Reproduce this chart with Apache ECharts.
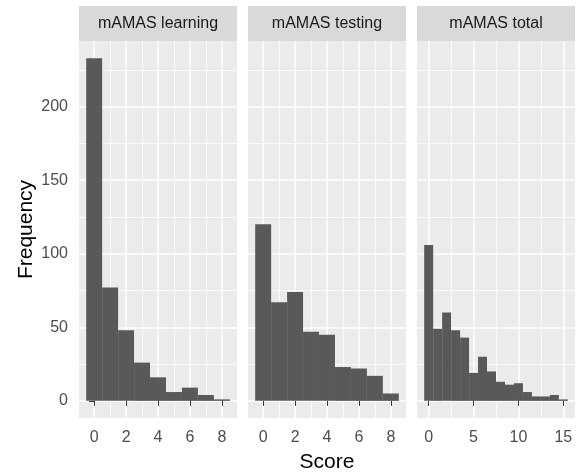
<!DOCTYPE html>
<html><head><meta charset="utf-8">
<script src="https://cdn.jsdelivr.net/npm/echarts@6/dist/echarts.min.js"></script>
<style>html,body{margin:0;padding:0;background:#fff}#c{width:578px;height:473px}</style>
</head><body><div id="c"></div>
<script>
// ---- data ----
const panelTitles = ['mAMAS learning', 'mAMAS testing', 'mAMAS total'];
const learningScores = [0, 1, 2, 3, 4, 5, 6, 7, 8];
const learningCounts = [233, 77, 48, 26, 16, 6, 9, 4, 1];
const testingScores = [0, 1, 2, 3, 4, 5, 6, 7, 8];
const testingCounts = [120, 67, 74, 47, 45, 23, 22, 17, 5];
const totalScores = [0, 1, 2, 3, 4, 5, 6, 7, 8, 9, 10, 11, 12, 13, 14, 15];
const totalCounts = [106, 49, 60, 48, 43, 19, 30, 20, 13, 11, 12, 6, 3, 3, 4, 1];
const BIN_WIDTH = 1;
const xTicksSmall = [0, 2, 4, 6, 8];
const xMinorSmall = [1, 3, 5, 7];
const xTicksTotal = [0, 5, 10, 15];
const xMinorTotal = [2.5, 7.5, 12.5];
const yTicks = [0, 50, 100, 150, 200];
const yMinor = [25, 75, 125, 175, 225];
const xTitle = 'Score';
const yTitle = 'Frequency';

// ---- layout / style ----
const FONT = "'Liberation Sans', Arial, sans-serif";
const LEFTS = [79, 248, 417];
const PW = 158, TOP = 41, PH = 377, STRIP_TOP = 6, STRIP_H = 35;
const TICK_FS = 16, TITLE_FS = 21;
const MAJOR_W = 1.5, MINOR_W = 0.8;
const GRID_COLOR = '#FFFFFF';

const panels = [
  { scores: learningScores, counts: learningCounts, ticks: xTicksSmall, minor: xMinorSmall },
  { scores: testingScores, counts: testingCounts, ticks: xTicksSmall, minor: xMinorSmall },
  { scores: totalScores, counts: totalCounts, ticks: xTicksTotal, minor: xMinorTotal }
];

const maxCount = Math.max(...learningCounts, ...testingCounts, ...totalCounts);
const yPad = 0.05 * maxCount;
const yMin = -yPad, yMax = maxCount + yPad;

function barItem(params, api) {
  const x = api.value(0), c = api.value(1);
  const a = api.coord([x - BIN_WIDTH / 2, c]);
  const b = api.coord([x + BIN_WIDTH / 2, 0]);
  return { type: 'rect', shape: { x: a[0], y: a[1], width: b[0] - a[0], height: b[1] - a[1] }, style: { fill: '#595959' } };
}

const grid = [], xAxis = [], yAxis = [], series = [], graphic = [];
const xHelper = [], yHelper = [];
panels.forEach((p, i) => {
  const lo = Math.min(...p.scores) - BIN_WIDTH / 2;
  const hi = Math.max(...p.scores) + BIN_WIDTH / 2;
  const pad = 0.05 * (hi - lo);
  p.xMin = lo - pad; p.xMax = hi + pad;

  grid.push({ left: LEFTS[i], top: TOP, width: PW, height: PH, show: false,
    containLabel: false, outerBoundsMode: 'none' });
  xAxis.push({
    type: 'value', gridIndex: i, min: p.xMin, max: p.xMax, z: 1,
    axisLine: { show: false },
    axisTick: { show: true, customValues: p.ticks, length: 5, lineStyle: { color: '#333333', width: 1 } },
    axisLabel: { show: true, customValues: p.ticks, color: '#4D4D4D', fontSize: TICK_FS, fontFamily: FONT, margin: 12 },
    splitLine: { show: true, lineStyle: { color: GRID_COLOR, width: MAJOR_W } },
    name: i === 1 ? xTitle : '', nameLocation: 'middle', nameGap: 34,
    nameTextStyle: { color: '#000000', fontSize: TITLE_FS, fontFamily: FONT }
  });
  yAxis.push({
    type: 'value', gridIndex: i, min: yMin, max: yMax, z: 1,
    axisLine: { show: false },
    axisTick: { show: i === 0, customValues: yTicks, length: 5, lineStyle: { color: '#333333', width: 1 } },
    axisLabel: { show: i === 0, customValues: yTicks, color: '#4D4D4D', fontSize: TICK_FS, fontFamily: FONT, margin: 11 },
    splitLine: { show: true, lineStyle: { color: GRID_COLOR, width: MAJOR_W } },
    name: i === 0 ? yTitle : '', nameLocation: 'middle', nameGap: 42, nameRotate: 90,
    nameTextStyle: { color: '#000000', fontSize: TITLE_FS, fontFamily: FONT }
  });
  xHelper.push({
    type: 'value', gridIndex: i, min: p.xMin, max: p.xMax, position: 'bottom', z: 1,
    axisLine: { show: false }, axisLabel: { show: false },
    axisTick: { show: false, customValues: p.minor },
    splitLine: { show: true, lineStyle: { color: GRID_COLOR, width: MINOR_W } }
  });
  yHelper.push({
    type: 'value', gridIndex: i, min: yMin, max: yMax, position: 'left', z: 1,
    axisLine: { show: false }, axisLabel: { show: false },
    axisTick: { show: false, customValues: yMinor },
    splitLine: { show: true, lineStyle: { color: GRID_COLOR, width: MINOR_W } }
  });
  series.push({ type: 'custom', xAxisIndex: i, yAxisIndex: i, renderItem: barItem,
    data: p.scores.map((s, k) => [s, p.counts[k]]), z: 5, silent: true, clip: false });
  // panel background, strip and strip label
  graphic.push({ type: 'rect', z: -100, shape: { x: LEFTS[i], y: TOP, width: PW, height: PH }, style: { fill: '#EBEBEB' }, silent: true });
  graphic.push({ type: 'rect', z: -100, shape: { x: LEFTS[i], y: STRIP_TOP, width: PW, height: STRIP_H }, style: { fill: '#D9D9D9' }, silent: true });
  graphic.push({ type: 'text', x: LEFTS[i] + PW / 2, y: STRIP_TOP + STRIP_H / 2,
    style: { text: panelTitles[i], fill: '#1A1A1A', font: TICK_FS + 'px ' + FONT, align: 'center', verticalAlign: 'middle' }, silent: true });
});

const chart = echarts.init(document.getElementById('c'), null, { renderer: 'canvas' });
chart.setOption({ animation: false, backgroundColor: '#ffffff', grid,
  xAxis: xAxis.concat(xHelper), yAxis: yAxis.concat(yHelper), series, graphic });
</script>
</body></html>
